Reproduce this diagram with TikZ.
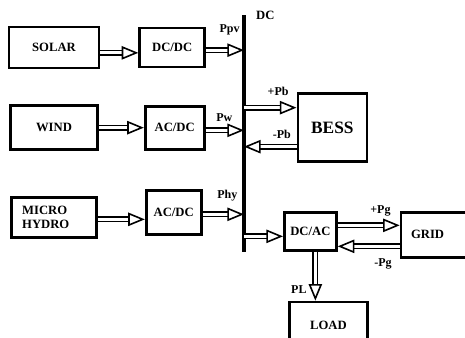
\documentclass[tikz,border=0pt]{standalone}
\usepackage{fontspec}
\setmainfont{Liberation Serif}
\usetikzlibrary{arrows.meta}
\usetikzlibrary{positioning}

\tikzset{
  blk/.style={draw, line width=2pt, inner sep=0pt, font=\bfseries\fontsize{9.5}{11}\selectfont},
  pwr/.style={line width=1.2pt, double, double distance=2.2pt, -{Triangle[open, length=12.5pt, width=10pt]}},
  lbl/.style={inner sep=1pt, font=\bfseries\fontsize{9}{10}\selectfont},
  busbar/.style={line width=2.3pt},
}

\begin{document}
\begin{tikzpicture}[x=0.75pt, y=-0.75pt]
  \useasboundingbox (0,0) rectangle (465,337);
  \node[blk, minimum width=67.5pt, minimum height=30.75pt] (solar) at (54,47.5) {SOLAR};
  \node[blk, minimum width=48.75pt, minimum height=29.25pt] (dcdc) [right=28.5pt of solar] {DC/DC};
  \node[blk, minimum width=65.25pt, minimum height=33pt] (wind) [below=26.25pt of solar] {WIND};
  \node[blk, minimum width=44.25pt, minimum height=32.25pt] (acdc1) [right=33.75pt of wind] {AC/DC};
  \node[blk, text width=47.75pt, inner xsep=8pt, minimum height=30pt, align=left] (hydro) [below=33.75pt of wind] {MICRO\\HYDRO};
  \node[blk, minimum width=41.25pt, minimum height=33pt] (acdc2) [right=35.25pt of hydro, yshift=3.75pt] {AC/DC};
  \node[blk, minimum width=51.75pt, minimum height=51pt, font=\bfseries\fontsize{13}{15}\selectfont] (bess) [right=68.25pt of acdc1] {BESS};
  \node[blk, minimum width=39pt, minimum height=28.5pt] (dcac) [right=60.4pt of acdc2, yshift=-14.25pt] {DC/AC};
  \node[blk, text width=42.75pt, inner xsep=7.5pt, minimum height=33.75pt, align=left] (grid) [right=46.5pt of dcac, yshift=-2.6pt] {GRID};
  \node[blk, minimum width=58.5pt, minimum height=34.5pt] (load) [below=36.75pt of dcac, xshift=13.5pt] {LOAD};

  \coordinate (bustop) at (244,15);
  \coordinate (busbot) at (244,252);
  \draw[busbar] (bustop) node[lbl, right=7pt, font=\bfseries\fontsize{9.5}{11}\selectfont] {DC} -- (busbot);

  \draw[pwr] ([yshift=-4pt]solar.east) -- ([yshift=-4pt]solar.east -| dcdc.west);
  \draw[pwr] (wind.east) -- (wind.east -| acdc1.west);
  \draw[pwr] ([yshift=-1.5pt]hydro.east) -- ([yshift=-1.5pt]hydro.east -| acdc2.west);
  \draw[pwr] ([yshift=-2pt]dcdc.east) -- ([yshift=-2pt]dcdc.east -| bustop) node[lbl, pos=0.62, above=9.5pt] {Ppv};
  \draw[pwr] ([yshift=-2pt]acdc1.east) -- ([yshift=-2pt]acdc1.east -| bustop) node[lbl, pos=0.49, above=5pt] {Pw};
  \draw[pwr] ([yshift=-1.5pt]acdc2.east) -- ([yshift=-1.5pt]acdc2.east -| bustop) node[lbl, pos=0.6, above=8pt] {Phy};
  \draw[pwr] ([yshift=15pt]bess.west -| bustop) -- ([yshift=15pt]bess.west) node[lbl, pos=0.65, above=7.25pt] {+Pb};
  \draw[pwr] ([yshift=-14.25pt]bess.west) -- ([yshift=-14.25pt]bess.west -| bustop) node[lbl, pos=0.28, above=4.25pt] {-Pb};
  \draw[pwr] ([yshift=-3.75pt]dcac.west -| bustop) -- ([yshift=-3.75pt]dcac.west);
  \draw[pwr] ([yshift=4.5pt]dcac.east) -- ([yshift=4.5pt]dcac.east -| grid.west) node[lbl, pos=0.69, above=5pt] {+Pg};
  \draw[pwr] ([yshift=-11.25pt]dcac.east -| grid.west) -- ([yshift=-11.25pt]dcac.east) node[lbl, pos=0.27, below=8pt] {-Pg};
  \draw[pwr] ([xshift=3.75pt]dcac.south) -- ([xshift=3.75pt]dcac.south |- load.north) node[lbl, pos=0.77, left=5pt] {PL};
\end{tikzpicture}
\end{document}
